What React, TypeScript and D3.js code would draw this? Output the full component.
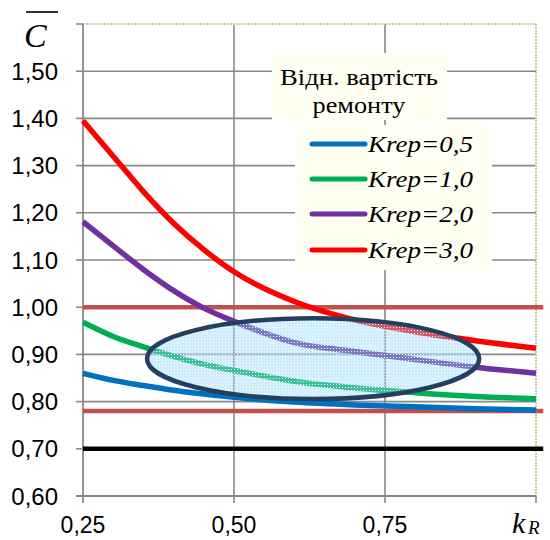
import React from 'react';
import * as d3 from 'd3';

const kR = [0.25, 0.30, 0.35, 0.40, 0.45, 0.50, 0.60, 0.70, 0.80, 0.90, 1.00];
const krep05 = [0.860, 0.845, 0.834, 0.824, 0.816, 0.809, 0.799, 0.793, 0.789, 0.785, 0.782];
const krep10 = [0.968, 0.938, 0.916, 0.896, 0.879, 0.866, 0.843, 0.829, 0.819, 0.811, 0.806];
const krep20 = [1.181, 1.130, 1.080, 1.035, 0.998, 0.970, 0.925, 0.906, 0.889, 0.873, 0.860];
const krep30 = [1.395, 1.320, 1.245, 1.178, 1.122, 1.075, 1.012, 0.973, 0.948, 0.929, 0.913];
const seriesValues = [krep05, krep10, krep20, krep30];
const seriesNames = ['Krep=0,5', 'Krep=1,0', 'Krep=2,0', 'Krep=3,0'];
const seriesColors = ['#0070C0', '#00B050', '#7030A0', '#FF0000'];

const yTicks = [0.6, 0.7, 0.8, 0.9, 1.0, 1.1, 1.2, 1.3, 1.4, 1.5];
const xTicks = [0.25, 0.5, 0.75, 1.0];

const refLevels = [1.0, 0.78, 0.70];
const refColors = ['#C0504D', '#C0504D', '#000000'];
const refExtent = [0.25, 1.012];

const ellipseCenter = [0.631, 0.891];
const ellipseRadii = [0.275, 0.0856];

const legendTitle = ['Відн. вартість', 'ремонту'];

export default function App() {
  const W = 550, H = 540;
  const x = d3.scaleLinear().domain([0.25, 1.0]).range([83, 536]);
  const y = d3.scaleLinear().domain([0.6, 1.6]).range([496, 24]);
  const fmt = (v: number) => d3.format('.2f')(v).replace('.', ',');
  const line = d3.line<number>()
    .x((_, i) => x(kR[i]))
    .y((d) => y(d))
    .curve(d3.curveMonotoneX);
  const gridColor = '#888888';
  const sans = '"Liberation Sans", Arial, sans-serif';
  const serif = '"Liberation Serif", "Times New Roman", serif';

  const ecx = x(ellipseCenter[0]);
  const ecy = y(ellipseCenter[1]);
  const erx = x(ellipseCenter[0] + ellipseRadii[0]) - ecx;
  const ery = ecy - y(ellipseCenter[1] + ellipseRadii[1]);

  const legendYs = [144, 179, 214, 250];

  return (
    <svg width={W} height={H} style={{ position: 'absolute', left: 0, top: 0, background: '#fff' }}>
      <defs>
        <pattern id="dots" width="3" height="3" patternUnits="userSpaceOnUse">
          <rect width="3" height="3" fill="#8fd6f6" fillOpacity="0.42" />
          <rect width="1" height="1" fill="#ffffff" fillOpacity="0.9" />
        </pattern>
      </defs>
      {/* horizontal gridlines */}
      {yTicks.filter((t) => t > 0.6).map((t) => (
        <line key={'g' + t} x1={x(0.25)} x2={x(1.0)} y1={y(t)} y2={y(t)} stroke={gridColor} strokeWidth={1.6} />
      ))}
      {/* vertical gridlines */}
      {xTicks.filter((t) => t > 0.25 && t < 1.0).map((t) => (
        <line key={'v' + t} x1={x(t)} x2={x(t)} y1={y(1.6)} y2={y(0.6) + 7} stroke={gridColor} strokeWidth={1.6} />
      ))}
      {/* plot border top/right dotted */}
      <line x1={x(0.25)} x2={x(1.0)} y1={y(1.6)} y2={y(1.6)} stroke="#c8c8a2" strokeWidth={2} strokeDasharray="2 1" />
      <line x1={x(1.0)} x2={x(1.0)} y1={y(1.6)} y2={y(0.6)} stroke="#c8c8a2" strokeWidth={2} strokeDasharray="2 1" />
      {/* axes */}
      <line x1={x(0.25)} x2={x(0.25)} y1={y(1.6)} y2={y(0.6) + 7} stroke={gridColor} strokeWidth={1.8} />
      <line x1={x(0.25) - 7} x2={x(1.0)} y1={y(0.6)} y2={y(0.6)} stroke={gridColor} strokeWidth={1.8} />
      {[...yTicks, 1.6].map((t) => (
        <line key={'yt' + t} x1={x(0.25) - 7} x2={x(0.25)} y1={y(t)} y2={y(t)} stroke={gridColor} strokeWidth={1.6} />
      ))}
      <line x1={x(1.0)} x2={x(1.0)} y1={y(0.6)} y2={y(0.6) + 7} stroke={gridColor} strokeWidth={1.6} />
      {/* tick labels */}
      {yTicks.map((t) => (
        <text key={'yl' + t} x={58} y={y(t)} dy="0.36em" textAnchor="end" fontFamily={sans} fontSize={24} fill="#000">{fmt(t)}</text>
      ))}
      {xTicks.filter((t) => t < 1.0).map((t) => (
        <text key={'xl' + t} x={x(t)} y={533} textAnchor="middle" fontFamily={sans} fontSize={23} fill="#000">{fmt(t)}</text>
      ))}
      {/* axis titles */}
      <text x={24} y={47} fontFamily={serif} fontStyle="italic" fontSize={34} fill="#000">C</text>
      <line x1={26} x2={58} y1={12} y2={12} stroke="#000" strokeWidth={1.6} />
      <text x={512} y={533} fontFamily={serif} fontStyle="italic" fontSize={30} fill="#000">k</text>
      <text x={528} y={534} fontFamily={serif} fontStyle="italic" fontSize={19} fill="#000">R</text>
      {/* reference levels */}
      {refLevels.map((v, i) => (
        <line key={'r' + v} x1={x(refExtent[0])} x2={x(refExtent[1])} y1={y(v)} y2={y(v)} stroke={refColors[i]} strokeWidth={4.5} />
      ))}
      {/* series */}
      {seriesValues.map((vals, i) => (
        <path key={'s' + i} d={line(vals) || ''} fill="none" stroke={seriesColors[i]} strokeWidth={5.5} />
      ))}
      {/* ellipse */}
      <ellipse cx={ecx} cy={ecy} rx={erx} ry={ery} fill="url(#dots)" stroke="#243F60" strokeWidth={4.5} />
      {/* legend */}
      <rect x={272} y={53} width={175} height={67} fill="#FFFFF2" />
      <text x={359} y={85} textAnchor="middle" fontFamily={serif} fontSize={23} textLength={158} lengthAdjust="spacingAndGlyphs" fill="#000">{legendTitle[0]}</text>
      <text x={359} y={113} textAnchor="middle" fontFamily={serif} fontSize={23} textLength={93} lengthAdjust="spacingAndGlyphs" fill="#000">{legendTitle[1]}</text>
      <rect x={295} y={125} width={197} height={145} fill="#FFFFF2" />
      {seriesNames.map((n, i) => (
        <g key={'l' + i}>
          <line x1={312} x2={365} y1={legendYs[i]} y2={legendYs[i]} stroke={seriesColors[i]} strokeWidth={5} strokeLinecap="round" />
          <text x={368} y={legendYs[i] + 8} fontFamily={serif} fontStyle="italic" fontSize={23} textLength={105} lengthAdjust="spacingAndGlyphs" fill="#000">{n}</text>
        </g>
      ))}
    </svg>
  );
}
